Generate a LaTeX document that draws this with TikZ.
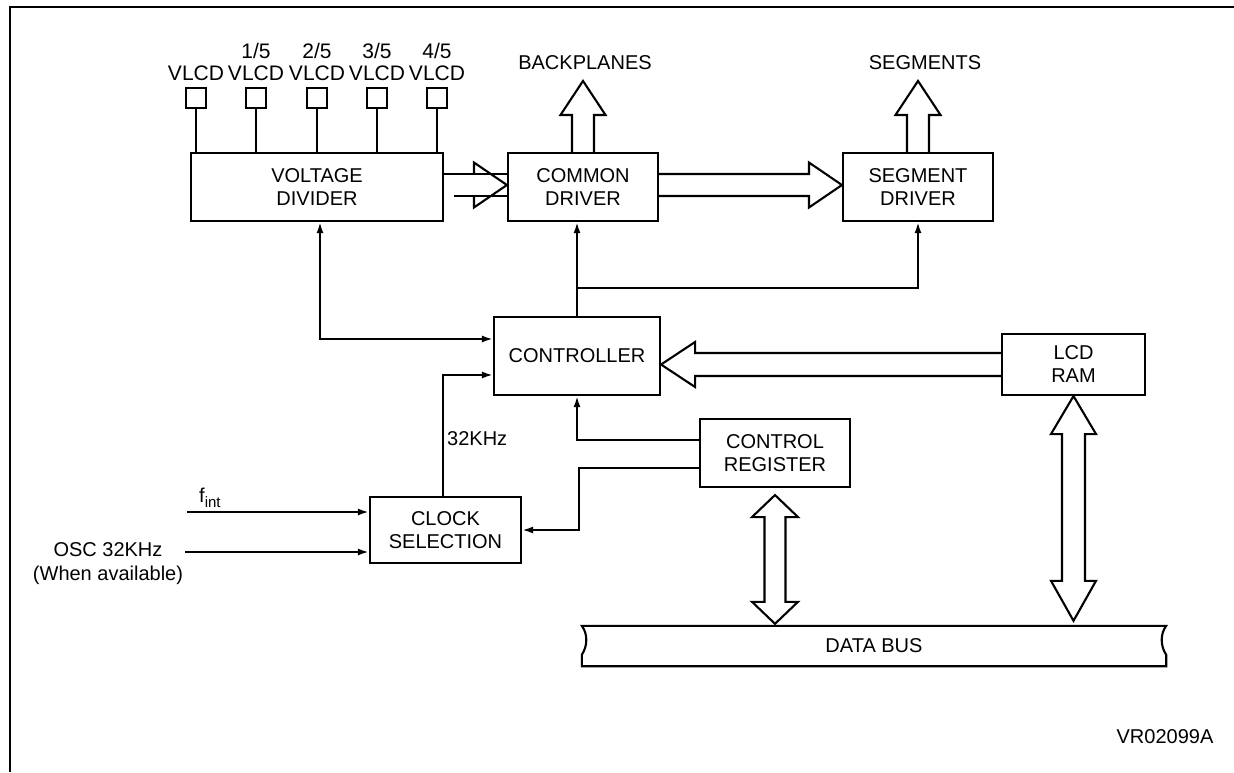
\documentclass[tikz,border=0pt]{standalone}
\usepackage{fontspec}
\setmainfont{Liberation Sans}
\usetikzlibrary{arrows.meta,calc}
\begin{document}
\begin{tikzpicture}[x=1pt,y=-1pt,
  every node/.style={inner sep=0pt,font=\fontsize{20}{23}\selectfont},
  ln/.style={line width=2.1pt},
  box/.style={draw,line width=2.1pt,align=center},
  vsq/.style={draw,line width=2.1pt,minimum width=20pt,minimum height=20pt},
  pinlbl/.style={anchor=base,font=\fontsize{21}{23}\selectfont},
  sarrow/.style={ln,-{Latex[length=11pt,width=7pt]}},
  darrow/.style={ln,{Latex[length=11pt,width=7pt]}-{Latex[length=11pt,width=7pt]}}]
\useasboundingbox (0,0) rectangle (1234,772);
% outer frame
\draw[line width=2.8pt] (10,772) -- (10,7) -- (1234,7);

% boxes
\node[box,minimum width=252,minimum height=68] (vd) at (317,187) {VOLTAGE\\DIVIDER};
\node[box,minimum width=150,minimum height=68] (cd) at (583,187) {COMMON\\DRIVER};
\node[box,minimum width=150,minimum height=68] (sd) at (918,187) {SEGMENT\\DRIVER};
\node[box,minimum width=166,minimum height=78] (ctrl) at (577,356) {CONTROLLER};
\node[box,minimum width=143,minimum height=61] (lcd) at (1073.5,364.5) {LCD\\RAM};
\node[box,minimum width=150,minimum height=68] (cr) at (775,453) {CONTROL\\REGISTER};
\node[box,minimum width=151,minimum height=66] (clk) at (445.5,530) {CLOCK\\SELECTION};
\node[minimum width=584,minimum height=40] (bus) at (874,646) {DATA BUS};

% VLCD pins
\foreach \i/\xx in {0/196,1/256,2/317,3/377,4/437}{
  \node[vsq] (sq\i) at (\xx,98) {};
  \node[pinlbl] (vl\i) at (\xx,80) {VLCD};
  \draw[ln] (sq\i.south) -- (sq\i.south |- vd.north);
}
\foreach \i/\xx in {1/256,2/317,3/377,4/437}{
  \node[pinlbl] (fr\i) at (\xx,58) {\i/5};
}

% VD -> CD wide arrow (shaft runs through head)
\draw[ln] ([yshift=13pt]vd.east) -- ([yshift=13pt]cd.west);
\draw[ln] ([xshift=10pt,yshift=-9pt]vd.east) -- ([yshift=-9pt]cd.west);
\draw[ln] ([xshift=-33pt,yshift=13pt]cd.west) -- ([xshift=-33pt,yshift=24.5pt]cd.west)
  -- ([yshift=2pt]cd.west) -- ([xshift=-33pt,yshift=-20.5pt]cd.west) -- ([xshift=-33pt,yshift=-9pt]cd.west);

% CD -> SD wide arrow
\draw[ln] ([yshift=13pt]cd.east) -- ([xshift=-33pt,yshift=13pt]sd.west) -- ([xshift=-33pt,yshift=24.5pt]sd.west)
  -- ([yshift=2pt]sd.west) -- ([xshift=-33pt,yshift=-20.5pt]sd.west) -- ([xshift=-33pt,yshift=-9pt]sd.west)
  -- ([yshift=-9pt]cd.east);

% up arrows
\draw[ln] ([xshift=-11pt]cd.north) -- ([xshift=-11pt,yshift=37pt]cd.north) -- ([xshift=-22.5pt,yshift=37pt]cd.north)
  -- ([yshift=71pt]cd.north) -- ([xshift=22.5pt,yshift=37pt]cd.north) -- ([xshift=11pt,yshift=37pt]cd.north) -- ([xshift=11pt]cd.north);
\draw[ln] ([xshift=-11pt]sd.north) -- ([xshift=-11pt,yshift=37pt]sd.north) -- ([xshift=-22.5pt,yshift=37pt]sd.north)
  -- ([yshift=71pt]sd.north) -- ([xshift=22.5pt,yshift=37pt]sd.north) -- ([xshift=11pt,yshift=37pt]sd.north) -- ([xshift=11pt]sd.north);
\node (bp) at (585,63) {BACKPLANES};
\node (sg) at (925,63) {SEGMENTS};

% controller to drivers
\draw[sarrow] (ctrl.north) -- (ctrl.north |- cd.south);
\coordinate (j) at (577,288);
\draw[sarrow] (j) -| (sd.south);

% VD <-> controller
\draw[darrow] ([xshift=3pt]vd.south) |- ([yshift=17pt]ctrl.west);

% clock -> controller
\draw[sarrow] ([xshift=-2.5pt]clk.north) |- ([yshift=-19pt]ctrl.west);
\node[anchor=west] (khz) at (447,439) {32KHz};

% control register links
\draw[sarrow] ([yshift=13pt]cr.west) -| (ctrl.south);
\draw[sarrow] ([yshift=-15pt]cr.west) -- ++(-120,0) |- (clk.east);

% inputs
\coordinate (fin) at (187,512);
\draw[sarrow] (fin) -- (fin -| clk.west);
\node[anchor=base west] (fl) at (199,502) {f\raisebox{-5pt}{\fontsize{15}{15}\selectfont int}};
\coordinate (osc) at (185,552);
\draw[sarrow] (osc) -- (osc -| clk.west);
\node[align=center,font=\fontsize{20}{24}\selectfont] (osct) at (108,564) {OSC 32KHz\\(When available)};

% LCD RAM -> controller wide arrow
\coordinate (lt) at (ctrl.east |- lcd.west);
\draw[ln] ([yshift=11.5pt]lcd.west) -- ([xshift=34pt,yshift=11.5pt]lt) -- ([xshift=34pt,yshift=22.5pt]lt)
  -- (lt) -- ([xshift=34pt,yshift=-22.5pt]lt) -- ([xshift=34pt,yshift=-11.5pt]lt) -- ([yshift=-11.5pt]lcd.west);

% double arrows to data bus
\draw[ln] let \p1=([yshift=-7pt]cr.south), \p2=($(cr.south |- bus.north)+(0,-2)$) in
  (\p1) -- (\x1+23pt,\y1-22pt) -- (\x1+10.5pt,\y1-22pt) -- (\x1+10.5pt,\y2+22pt) -- (\x1+23pt,\y2+22pt)
  -- (\x1,\y2) -- (\x1-23pt,\y2+22pt) -- (\x1-10.5pt,\y2+22pt) -- (\x1-10.5pt,\y1-22pt) -- (\x1-23pt,\y1-22pt) -- cycle;
\draw[ln] let \p1=(lcd.south), \p2=($(lcd.south |- bus.north)+(0,-5)$) in
  (\p1) -- (\x1+22.5pt,\y1-38pt) -- (\x1+11.5pt,\y1-38pt) -- (\x1+11.5pt,\y2+40pt) -- (\x1+22.5pt,\y2+40pt)
  -- (\x1,\y2) -- (\x1-22.5pt,\y2+40pt) -- (\x1-11.5pt,\y2+40pt) -- (\x1-11.5pt,\y1-38pt) -- (\x1-22.5pt,\y1-38pt) -- cycle;

% data bus outline
\draw[ln] (bus.north west) -- (bus.north east)
  .. controls ([xshift=-6pt,yshift=-8pt]bus.north east) and ([xshift=-6pt,yshift=-20pt]bus.north east) .. ([yshift=-29pt]bus.north east)
  -- (bus.south east) -- (bus.south west) -- ([yshift=-29pt]bus.north west)
  .. controls ([xshift=6pt,yshift=-20pt]bus.north west) and ([xshift=6pt,yshift=-8pt]bus.north west) .. (bus.north west) -- cycle;

\node (vr) at (1165,737) {VR02099A};
\end{tikzpicture}
\end{document}
